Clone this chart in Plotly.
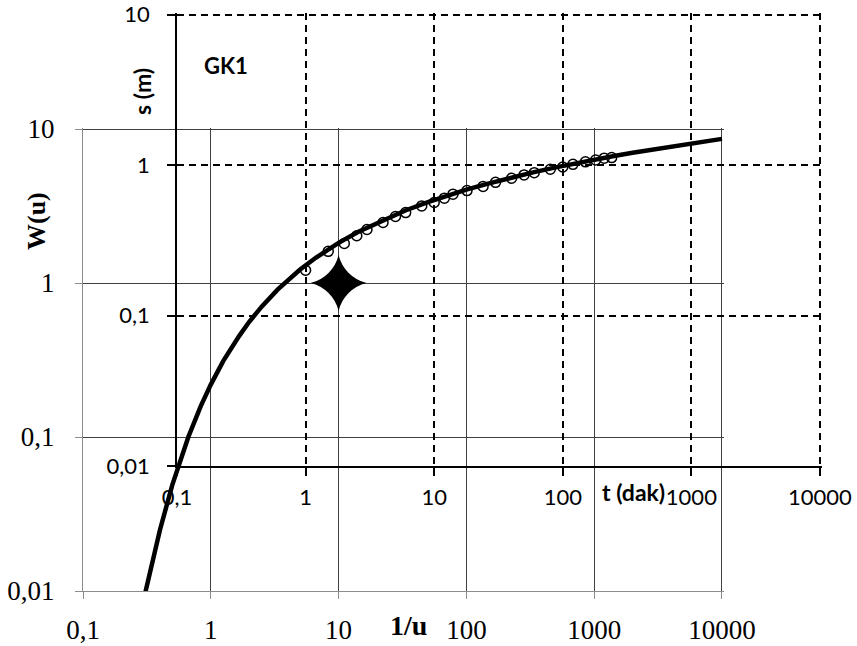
import plotly.graph_objects as go

# Theis type curve (lower axes): 1/u versus W(u)
inv_u = [10000, 6667, 5000, 3333, 2000, 1429, 1000, 667, 500, 333, 200, 143,
         100, 66.7, 50, 33.3, 20, 14.3, 10, 6.67, 5, 3.33, 2.5, 2, 1.67, 1.43,
         1.25, 1, 0.833, 0.667, 0.5, 0.4, 0.333, 0.303]
W_u = [8.633, 8.228, 7.940, 7.535, 7.024, 6.688, 6.332, 5.927, 5.639, 5.235,
       4.726, 4.392, 4.038, 3.637, 3.355, 2.959, 2.468, 2.151, 1.823, 1.464,
       1.223, 0.906, 0.702, 0.560, 0.454, 0.374, 0.311, 0.219, 0.158, 0.100,
       0.0489, 0.0249, 0.0130, 0.0093]

# Field data GK1 (upper axes): time (min) versus drawdown (m)
t_min = [1, 1.5, 2, 2.5, 3, 4, 5, 6, 8, 10, 12, 14, 18, 24, 30, 40, 50, 60,
         80, 100, 120, 150, 180, 210, 240]
s_m = [0.200, 0.267, 0.301, 0.339, 0.373, 0.415, 0.455, 0.483, 0.535, 0.563,
       0.602, 0.640, 0.676, 0.721, 0.767, 0.816, 0.859, 0.889, 0.937, 0.970,
       1.01, 1.05, 1.08, 1.11, 1.12]

# Match point (lower axes)
match_inv_u = [10]
match_W = [1]

# Tick labels
x_tickvals = [0.1, 1, 10, 100, 1000, 10000]
x_ticktext = ["0,1", "1", "10", "100", "1000", "10000"]
y_tickvals = [0.01, 0.1, 1, 10]
y_ticktext = ["0,01", "0,1", "1", "10"]

W, H = 857, 646
SERIF = "Liberation Serif, Times New Roman, serif"
SANS = "Lato, Carlito, sans-serif"

fig = go.Figure()
fig.add_trace(go.Scatter(x=inv_u, y=W_u, mode="lines",
                         line=dict(color="black", width=4.5),
                         xaxis="x", yaxis="y", showlegend=False))
fig.add_trace(go.Scatter(x=match_inv_u, y=match_W, mode="markers",
                         marker=dict(symbol="star-diamond", size=40, color="black"),
                         xaxis="x", yaxis="y", showlegend=False))
fig.add_trace(go.Scatter(x=t_min, y=s_m, mode="markers",
                         marker=dict(symbol="circle-open", size=10, color="black",
                                     line=dict(color="black", width=1.5)),
                         xaxis="x2", yaxis="y2", showlegend=False))

serif = dict(family=SERIF, size=27, color="black")
sans = dict(family=SANS, size=22, color="black")

lower_common = dict(type="log", showgrid=True, gridcolor="#404040", gridwidth=1,
                    showline=True, linecolor="#8c8c8c", linewidth=1,
                    ticks="outside", ticklen=7, tickcolor="#8c8c8c",
                    tickfont=serif, zeroline=False, automargin=False,
                    ticklabeloverflow="allow")
upper_common = dict(type="log", showgrid=True, gridcolor="black", gridwidth=1.5,
                    griddash="7px,5px", showline=True, linecolor="black", linewidth=1.5,
                    ticks="outside", ticklen=8, tickcolor="black", tickwidth=1.5,
                    tickfont=sans, zeroline=False, automargin=False,
                    ticklabeloverflow="allow")


def label(text, px, py, family, size, angle=0):
    return dict(text=text, x=px / W, y=1 - py / H, xref="paper", yref="paper",
                xanchor="center", yanchor="middle", showarrow=False,
                textangle=angle, font=dict(family=family, size=size, color="black"))


fig.update_layout(
    template="none",
    width=W, height=H,
    margin=dict(l=0, r=0, t=0, b=0, pad=0),
    paper_bgcolor="white",
    plot_bgcolor="rgba(0,0,0,0)",
    xaxis=dict(lower_common, range=[-1, 4.012], domain=[83 / W, 723.5 / W], anchor="y",
               tickvals=x_tickvals, ticktext=x_ticktext, ticklabelstandoff=8),
    yaxis=dict(lower_common, range=[-2, 1.01], domain=[1 - 591 / H, 1 - 127.5 / H], anchor="x",
               tickvals=y_tickvals, ticktext=y_ticktext, ticklabelstandoff=15),
    xaxis2=dict(upper_common, range=[-1, 4.012], domain=[177 / W, 821.5 / W], anchor="y2",
                tickvals=x_tickvals, ticktext=x_ticktext, ticklabelstandoff=3),
    yaxis2=dict(upper_common, range=[-2, 1.01], domain=[1 - 466 / H, 1 - 13 / H], anchor="x2",
                tickvals=y_tickvals, ticktext=y_ticktext, ticklabelstandoff=13),
    annotations=[
        label("<b>GK1</b>", 226, 65, SANS, 22),
        label("<b>W(u)</b>", 37, 221, SERIF, 26, -90),
        label("<b>s (m)</b>", 142, 92, SANS, 23, -90),
        label("<b>1/u</b>", 408, 625, SERIF, 28),
        label("<b>t (dak)</b>", 633, 492, SANS, 23),
    ],
)

fig.write_html("out.html")
